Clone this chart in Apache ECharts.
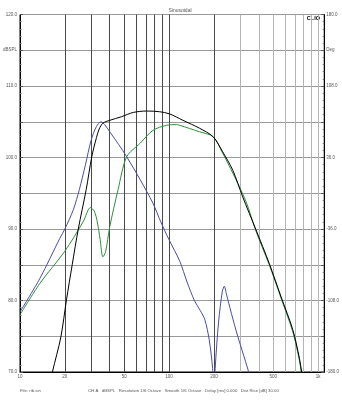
<!DOCTYPE html>
<html>
<head>
<meta charset="utf-8">
<script src="https://cdn.jsdelivr.net/npm/echarts@6/dist/echarts.min.js"></script>
<style>
html,body{margin:0;padding:0;background:#fff;}
#chart{width:342px;height:401px;}
</style>
</head>
<body>
<div id="chart"></div>
<script>
// ---- data ----
var xLabelValues = [10, 20, 50, 100, 200, 500, 1000];
var xGridValues = [10, 20, 30, 40, 50, 60, 70, 80, 90, 100, 200, 300, 400, 500, 600, 700, 800, 900, 1000];
var leftLabels = {120: '120.0', 115: 'dBSPL', 110: '110.0', 100: '100.0', 90: '90.0', 80: '80.0', 70: '70.0'};
var rightLabels = {180: '180.0', 144: 'Deg', 108: '108.0', 36: '36.0', '-36': '-36.0', '-108': '-108.0', '-180': '-180.0'};

var blackFreq = [16, 16.5, 18.8, 20.5, 22.4, 24.6, 27.8, 30.3, 32.6, 34, 36, 40, 47.9, 57.5, 70.6, 86.6, 100.8, 124, 160, 197.6, 229, 268, 312, 383, 470, 565, 677, 750, 776, 790];
var blackDb   = [68.5, 70, 74.9, 80.1, 85, 90, 95.5, 100.1, 102.8, 104, 104.8, 105.2, 105.7, 106.3, 106.5, 106.4, 106.1, 105.2, 104.1, 102.9, 100.8, 98.2, 94.5, 89.9, 85.2, 80.5, 75.9, 71.9, 70, 69];

var blueFreq = [10, 13.6, 18.5, 20, 22.8, 25, 27.5, 30, 32.5, 35, 37, 40, 46, 52, 64, 78, 88, 100, 118, 132, 148, 162, 174, 186, 196, 200, 204, 215, 228, 235, 242, 262, 289, 339, 350];
var blueDb   = [78.4, 83.1, 88.7, 90, 92.7, 95.5, 99, 102.4, 104.3, 105, 104.6, 103.6, 101.8, 100.1, 96.9, 93.6, 91, 88.5, 85.5, 82.6, 80, 78.6, 77.3, 74.5, 70.5, 66, 70.5, 77, 81.3, 82, 81, 78.2, 75, 70.3, 69];

var greenFreq = [10, 13.6, 20, 26.5, 29.7, 31.5, 33, 34.5, 36, 37.5, 40, 45.5, 52, 64, 78, 96, 112, 118, 160, 198, 229, 268, 329, 383, 470, 565, 677, 750, 770, 785];
var greenDb   = [78, 82.4, 86.9, 91, 93, 92.5, 91, 88.5, 86.1, 86.8, 90.3, 95.5, 100.1, 102, 103.8, 104.5, 104.6, 104.5, 103.6, 102.9, 100.6, 97.8, 93.8, 89.7, 85, 80.3, 75.6, 71.6, 70, 69];

function pairs(f, v) { return f.map(function (x, i) { return [x, v[i]]; }); }

var vLineColors = xGridValues.map(function (v) { return v <= 200 ? '#4a4a4a' : '#b4b4b4'; });
var FONT = 'Liberation Sans';
var chart = echarts.init(document.getElementById('chart'), null, {renderer: 'canvas'});
chart.setOption({
  animation: false,
  backgroundColor: '#fff',
  title: {
    text: 'Sinusoidal', left: 175, top: 3, textAlign: 'center',
    textStyle: {fontFamily: FONT, fontSize: 5, fontWeight: 'normal', color: '#555'}
  },
  grid: {left: 20, right: 17, top: 14.5, bottom: 29, show: true, borderColor: '#000', borderWidth: 1},
  xAxis: {
    type: 'log', logBase: 10, min: 10, max: 1100,
    axisLine: {show: true, onZero: false, lineStyle: {color: '#000', width: 1}},
    axisTick: {show: false, customValues: xGridValues},
    axisLabel: {
      customValues: xLabelValues, margin: 2,
      fontFamily: FONT, fontSize: 4.5, color: '#555',
      formatter: function (v) { return v >= 1000 ? '1k' : String(Math.round(v)); }
    },
    splitLine: {show: true, lineStyle: {color: vLineColors, width: 1}},
    minorTick: {show: false}, minorSplitLine: {show: false}
  },
  yAxis: [{
    type: 'value', min: 70, max: 120, interval: 5, position: 'left',
    axisLine: {show: true, onZero: false, lineStyle: {color: '#000'}},
    axisTick: {show: true, inside: true, length: 3, lineStyle: {color: '#555'}},
    minorTick: {show: true, splitNumber: 5, length: 1.5, lineStyle: {color: '#777'}},
    axisLabel: {
      margin: 3, fontFamily: FONT, fontSize: 4.5, color: '#555',
      formatter: function (v) { return leftLabels[Math.round(v)] || ''; }
    },
    splitLine: {show: true, lineStyle: {color: '#9a9a9a', width: 1}}
  }, {
    type: 'value', min: -180, max: 180, interval: 36, position: 'right',
    axisLine: {show: true, onZero: false, lineStyle: {color: '#000'}},
    axisTick: {show: true, inside: true, length: 3, lineStyle: {color: '#555'}},
    minorTick: {show: true, splitNumber: 5, length: 1.5, lineStyle: {color: '#777'}},
    axisLabel: {
      margin: 2, fontFamily: FONT, fontSize: 4.5, color: '#555',
      formatter: function (v) { return rightLabels[String(Math.round(v))] || ''; }
    },
    splitLine: {show: false}
  }],
  graphic: [
    {type: 'text', right: 22, top: 15, style: {text: 'CLIO', font: 'bold 5.5px ' + FONT, fill: '#000'}},
    {type: 'text', left: 20, top: 389, style: {text: 'File: rib.sin', font: '4.3px ' + FONT, fill: '#555'}},
    {type: 'text', left: 88, top: 389, style: {text: 'CH A   dBSPL   Resolution 1/6 Octave   Smooth 1/6 Octave   Delay [ms] 0.000   Dist Rise [dB] 30.00', font: '4.3px ' + FONT, fill: '#555'}}
  ],
  series: [
    {type: 'line', name: 'blue', data: pairs(blueFreq, blueDb), smooth: 0.3, showSymbol: false, clip: true,
     lineStyle: {color: '#4b4ba8', width: 1}},
    {type: 'line', name: 'green', data: pairs(greenFreq, greenDb), smooth: 0.3, showSymbol: false, clip: true,
     lineStyle: {color: '#2f8f3f', width: 1}},
    {type: 'line', name: 'black', data: pairs(blackFreq, blackDb), smooth: 0.3, showSymbol: false, clip: true,
     lineStyle: {color: '#000', width: 1}}
  ]
});
</script>
</body>
</html>
